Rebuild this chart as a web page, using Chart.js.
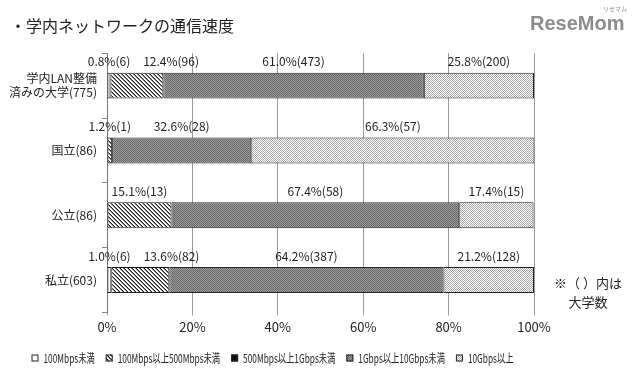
<!DOCTYPE html>
<html>
<head>
<meta charset="utf-8">
<script src="https://cdn.jsdelivr.net/npm/chart.js@4"></script>
<style>
  html, body { margin: 0; padding: 0; background: #fff; }
</style>
</head>
<body>
<canvas id="chart" width="640" height="390"></canvas>
<script>
// categories and series (percent of universities)
const categories = [['学内LAN整備', '済みの大学(775)'], '国立(86)', '公立(86)', '私立(603)'];
const seriesNames = ['100Mbps未満', '100Mbps以上500Mbps未満', '500Mbps以上1Gbps未満', '1Gbps以上10Gbps未満', '10Gbps以上'];

const under100M = [0.8, 0, 0, 1.0];
const from100Mto500M = [12.4, 1.2, 15.1, 13.6];
const from500Mto1G = [0, 0, 0, 0];
const from1Gto10G = [61.0, 32.6, 67.4, 64.2];
const over10G = [25.8, 66.3, 17.4, 21.2];

// number of universities behind each percentage
const under100MCount = [6, 0, 0, 6];
const from100Mto500MCount = [96, 1, 13, 82];
const from500Mto1GCount = [0, 0, 0, 0];
const from1Gto10GCount = [473, 28, 58, 387];
const over10GCount = [200, 57, 15, 128];

const xTicks = [0, 20, 40, 60, 80, 100];

const canvas = document.getElementById('chart');
const ctx = canvas.getContext('2d');

function makePattern(size, paint) {
  const c = document.createElement('canvas');
  c.width = c.height = size;
  const g = c.getContext('2d');
  paint(g);
  return ctx.createPattern(c, 'repeat');
}

const hatch = makePattern(4, g => {
  g.fillStyle = '#fff';
  g.fillRect(0, 0, 4, 4);
  for (let i = 0; i < 4; i++) {
    g.fillStyle = '#222';
    g.fillRect(i, i, 1, 1);
    g.fillStyle = '#888';
    g.fillRect(i, (i + 1) % 4, 1, 1);
  }
});
const darkGray = makePattern(2, g => {
  g.fillStyle = '#9a9a9a';
  g.fillRect(0, 0, 2, 2);
  g.fillStyle = '#6a6a6a';
  g.fillRect(0, 0, 1, 1);
  g.fillRect(1, 1, 1, 1);
});
const dots = makePattern(2, g => {
  g.fillStyle = '#fff';
  g.fillRect(0, 0, 2, 2);
  g.fillStyle = '#a6a6a6';
  g.fillRect(0, 0, 1, 1);
  g.fillRect(1, 1, 1, 1);
});

const fills = ['#fff', hatch, '#111', darkGray, dots];
const values = [under100M, from100Mto500M, from500Mto1G, from1Gto10G, over10G];
const counts = [under100MCount, from100Mto500MCount, from500Mto1GCount, from1Gto10GCount, over10GCount];

const jp = '"Noto Sans CJK JP", sans-serif';

// labels like "12.4%(96)" above each segment, pushed right when they would collide
const segLabels = {
  id: 'segLabels',
  afterDatasetsDraw(chart) {
    const c = chart.ctx;
    c.save();
    c.font = '12px ' + jp;
    c.fillStyle = '#222';
    c.textBaseline = 'middle';
    c.textAlign = 'left';
    categories.forEach((cat, i) => {
      let prevRight = -Infinity;
      chart.data.datasets.forEach((ds, d) => {
        const v = ds.data[i];
        if (!v) return;
        const el = chart.getDatasetMeta(d).data[i];
        const text = v.toFixed(1) + '%(' + counts[d][i] + ')';
        const w = c.measureText(text).width;
        let left = (el.x + el.base) / 2 - w / 2;
        if (left < prevRight + 13) left = prevRight + 13;
        c.fillText(text, left, el.y - el.height / 2 - 11);
        prevRight = left + w;
      });
    });
    c.restore();
  }
};

// legend in a narrow face, side note and site logo
const extras = {
  id: 'extras',
  afterDraw(chart) {
    const c = chart.ctx;
    c.save();

    c.font = '12px ' + jp;
    c.textAlign = 'left';
    c.textBaseline = 'middle';
    const box = 7, gap = 5, space = 11, legendWidth = 482;
    const natural = seriesNames.map(n => c.measureText(n).width);
    const squeeze = (legendWidth - seriesNames.length * (box + gap) - (seriesNames.length - 1) * space) /
      natural.reduce((a, b) => a + b, 0);
    let x = (chart.chartArea.left + chart.chartArea.right) / 2 - 48 - legendWidth / 2;
    const y = 358;
    seriesNames.forEach((name, d) => {
      c.fillStyle = fills[d];
      c.fillRect(x, y - 3.5, box, box);
      c.strokeStyle = '#222';
      c.lineWidth = 1;
      c.strokeRect(x + 0.5, y - 3, box - 1, box - 1);
      x += box + gap;
      const w = natural[d] * squeeze;
      c.fillStyle = '#222';
      c.fillText(name, x, y, w);
      x += w + space;
    });

    c.fillStyle = '#222';
    c.font = '13px ' + jp;
    c.textAlign = 'center';
    c.fillText('※（ ）内は', 588, 283);
    c.fillText('大学数', 588, 302);

    c.fillStyle = '#8c8c8c';
    c.font = 'bold 20px "Liberation Sans", sans-serif';
    c.textAlign = 'left';
    c.textBaseline = 'alphabetic';
    c.fillText('ReseMom', 530, 30);
    c.font = '6px ' + jp;
    c.fillText('リセマム', 603, 11);
    c.restore();
  }
};

new Chart(canvas, {
  type: 'bar',
  data: {
    labels: categories,
    datasets: seriesNames.map((name, d) => ({
      label: name,
      data: values[d],
      backgroundColor: fills[d],
      borderColor: '#222',
      borderWidth: 1,
      borderSkipped: false,
      barPercentage: 0.4,
      categoryPercentage: 1
    }))
  },
  options: {
    indexAxis: 'y',
    responsive: false,
    animation: false,
    layout: { padding: { left: 10, right: 106, top: 0, bottom: 48 } },
    scales: {
      x: {
        stacked: true,
        min: 0,
        max: 100,
        afterBuildTicks: s => { s.ticks = xTicks.map(v => ({ value: v })); },
        afterFit: s => { s.height = 29.5; },
        ticks: {
          callback: v => v + '%',
          color: '#222',
          font: { family: jp, size: 13 },
          padding: 4,
          maxRotation: 0
        },
        grid: { color: '#9a9a9a', tickLength: 3 },
        border: { display: false }
      },
      y: {
        stacked: true,
        afterFit: s => { s.width = 97; },
        ticks: {
          color: '#222',
          font: { family: jp, size: 12 },
          padding: 5
        },
        grid: { drawOnChartArea: false, drawTicks: true, tickLength: 5, offset: true, color: '#888' },
        border: { color: '#777' }
      }
    },
    plugins: {
      title: {
        display: true,
        text: '・学内ネットワークの通信速度',
        align: 'start',
        color: '#222',
        font: { family: jp, size: 16, weight: 'normal' },
        padding: { top: 16, bottom: 18 }
      },
      legend: { display: false },
      tooltip: { enabled: false }
    }
  },
  plugins: [segLabels, extras]
});
</script>
</body>
</html>
